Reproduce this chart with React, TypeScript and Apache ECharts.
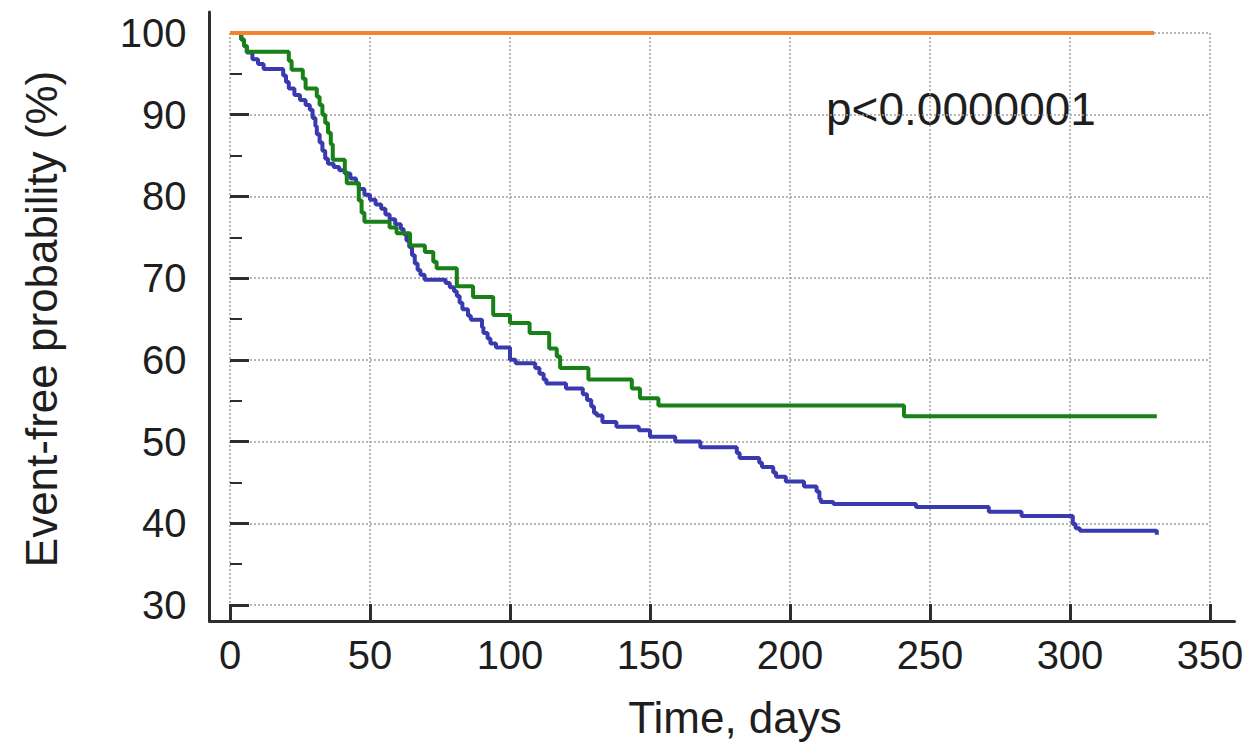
import React, { useEffect, useRef } from "react";
import * as echarts from "echarts";

// Kaplan–Meier style step data: [time in days, event-free probability %]
const orangeSteps: [number, number][] = [
  [0, 100],
  [330, 100],
];

const greenSteps: [number, number][] = [
  [0, 100], [4, 99.2], [5, 98.4], [6, 97.7],
  [21, 96.6], [22, 95.5],
  [26, 94.4], [27, 93.2],
  [31, 92.2], [32, 91.2], [33, 90.0], [34, 89.0], [35, 87.8], [36, 86.4], [36.7, 84.5],
  [41, 83.0], [41.7, 81.6],
  [46, 79.5], [47, 78.0], [48, 76.9],
  [57, 76.2], [59.5, 75.5],
  [64.3, 74.0],
  [69.6, 73.2],
  [72.6, 72.0], [73.8, 71.2],
  [81, 69.0],
  [86.8, 67.7],
  [94, 65.5],
  [100, 64.5],
  [107, 63.3],
  [114, 61.4], [116.7, 60.4], [117.9, 59.0],
  [128, 57.6],
  [143.5, 56.5],
  [146.4, 55.3],
  [153, 54.4],
  [240.7, 53.1],
  [331, 53.1],
];

const blueSteps: [number, number][] = [
  [0, 100], [4, 99.2], [5, 98.4], [6, 97.6], [8, 96.8], [10, 96.2], [12, 95.6],
  [19, 94.8], [20, 94.0], [21, 93.2], [23, 92.4], [25, 91.8], [27, 91.2], [28.5, 90.6],
  [29.5, 89.6], [30.5, 88.6], [31, 87.6], [32, 86.6], [33, 85.6], [34, 84.6], [35, 84.0],
  [37, 83.6], [39, 83.2], [41, 82.8], [43, 82.2], [45, 81.6], [46, 80.9], [48, 80.2],
  [50, 79.6], [52, 79.0], [54, 78.5], [55.5, 77.8], [57, 77.2], [59, 76.6], [61, 76.0],
  [62, 75.4], [63, 74.6], [64, 73.8], [65, 72.8], [66, 71.8], [67, 71.0], [68, 70.4],
  [69.5, 69.8],
  [77, 69.4], [78.5, 68.9], [80, 68.4], [81, 67.8], [82, 67.0], [83, 66.2], [85, 65.4], [86, 64.9],
  [90, 64.0], [90.5, 63.3], [92, 62.6], [93, 62.0], [95, 61.5],
  [100, 60.0], [102, 59.6],
  [109, 59.0], [110.5, 58.3], [112, 57.6], [113, 57.1],
  [120, 56.5],
  [126, 55.8], [127.5, 55.1], [129, 54.3], [130, 53.5], [131, 53.2], [133, 52.4],
  [138, 51.8],
  [146, 51.4],
  [150, 50.6],
  [159, 50.0],
  [168, 49.3],
  [181, 48.6], [182, 48.0],
  [189, 47.4], [190, 46.9],
  [194, 46.2], [195, 45.7],
  [198.5, 45.1],
  [205, 44.5],
  [209.5, 43.9],
  [210.5, 43.0], [211, 42.6],
  [215.5, 42.35],
  [245, 42.0],
  [271, 41.4],
  [282.7, 40.9],
  [301, 39.9], [302, 39.4], [303.5, 39.1],
  [331, 38.6],
];

const xTicks = { min: 0, max: 350, interval: 50 };
const yTicks = { min: 30, max: 100, interval: 10 };

const xTitle = "Time, days";
const yTitle = "Event-free probability (%)";
const pValueText = "p<0.0000001";

const FONT = "'Liberation Sans', Arial, sans-serif";
const AXIS_COLOR = "#2e2e2e";
const TEXT_COLOR = "#1e1e1e";

export default function App() {
  const ref = useRef<HTMLDivElement>(null);

  useEffect(() => {
    if (!ref.current) return;
    const chart = echarts.init(ref.current, undefined, { renderer: "svg" });

    const gridLine = { show: true, lineStyle: { color: "#a0a0a0", width: 1.5, type: [2, 2] as any } };

    chart.setOption({
      animation: false,
      backgroundColor: "#ffffff",
      textStyle: { fontFamily: FONT },
      grid: [
        { left: 230, top: 33, width: 980, height: 572, containLabel: false },
        { left: 209.5, top: 12, width: 1025, height: 609, containLabel: false },
      ],
      xAxis: [
        {
          type: "value",
          gridIndex: 0,
          min: xTicks.min,
          max: xTicks.max,
          interval: xTicks.interval,
          offset: 16,
          axisLine: { show: false },
          axisTick: { show: true, inside: true, length: 17, lineStyle: { color: AXIS_COLOR, width: 3 } },
          axisLabel: { show: true, margin: 14, fontSize: 40, color: TEXT_COLOR, fontFamily: FONT },
          splitLine: gridLine,
          name: xTitle,
          nameLocation: "middle",
          nameGap: 74,
          nameTextStyle: { fontSize: 44, color: TEXT_COLOR, fontFamily: FONT, padding: [0, 0, 0, 30] },
        },
        {
          type: "value",
          gridIndex: 1,
          min: 0,
          max: 1,
          axisLine: { show: true, onZero: false, lineStyle: { color: AXIS_COLOR, width: 3 } },
          axisTick: { show: false },
          axisLabel: { show: false },
          splitLine: { show: false },
        },
      ],
      yAxis: [
        {
          type: "value",
          gridIndex: 0,
          min: yTicks.min,
          max: yTicks.max,
          interval: yTicks.interval,
          offset: 20.5,
          axisLine: { show: false },
          axisTick: { show: true, inside: true, length: 19, lineStyle: { color: AXIS_COLOR, width: 3 } },
          minorTick: { show: true, splitNumber: 2, length: 12, lineStyle: { color: AXIS_COLOR, width: 2 } },
          axisLabel: { show: true, margin: 23, fontSize: 40, color: TEXT_COLOR, fontFamily: FONT },
          splitLine: gridLine,
          name: yTitle,
          nameLocation: "middle",
          nameGap: 146,
          nameTextStyle: { fontSize: 44, color: TEXT_COLOR, fontFamily: FONT },
        },
        {
          type: "value",
          gridIndex: 1,
          min: 0,
          max: 1,
          axisLine: { show: true, onZero: false, lineStyle: { color: AXIS_COLOR, width: 3 } },
          axisTick: { show: false },
          axisLabel: { show: false },
          splitLine: { show: false },
        },
      ],
      graphic: [
        {
          type: "text",
          left: 826,
          top: 86,
          style: { text: pValueText, fontSize: 46, fill: TEXT_COLOR, fontFamily: FONT },
        },
      ],
      series: [
        {
          type: "line",
          name: "blue",
          xAxisIndex: 0,
          yAxisIndex: 0,
          step: "end",
          showSymbol: false,
          data: blueSteps,
          lineStyle: { color: "#3a3ab0", width: 4 },
          z: 3,
        },
        {
          type: "line",
          name: "green",
          xAxisIndex: 0,
          yAxisIndex: 0,
          step: "end",
          showSymbol: false,
          data: greenSteps,
          lineStyle: { color: "#178017", width: 4 },
          z: 4,
        },
        {
          type: "line",
          name: "orange",
          xAxisIndex: 0,
          yAxisIndex: 0,
          step: "end",
          showSymbol: false,
          data: orangeSteps,
          lineStyle: { color: "#f7822e", width: 4 },
          z: 5,
        },
      ],
    });

    return () => chart.dispose();
  }, []);

  return (
    <div
      ref={ref}
      style={{ position: "absolute", left: 0, top: 0, width: 1253, height: 754 }}
    />
  );
}
